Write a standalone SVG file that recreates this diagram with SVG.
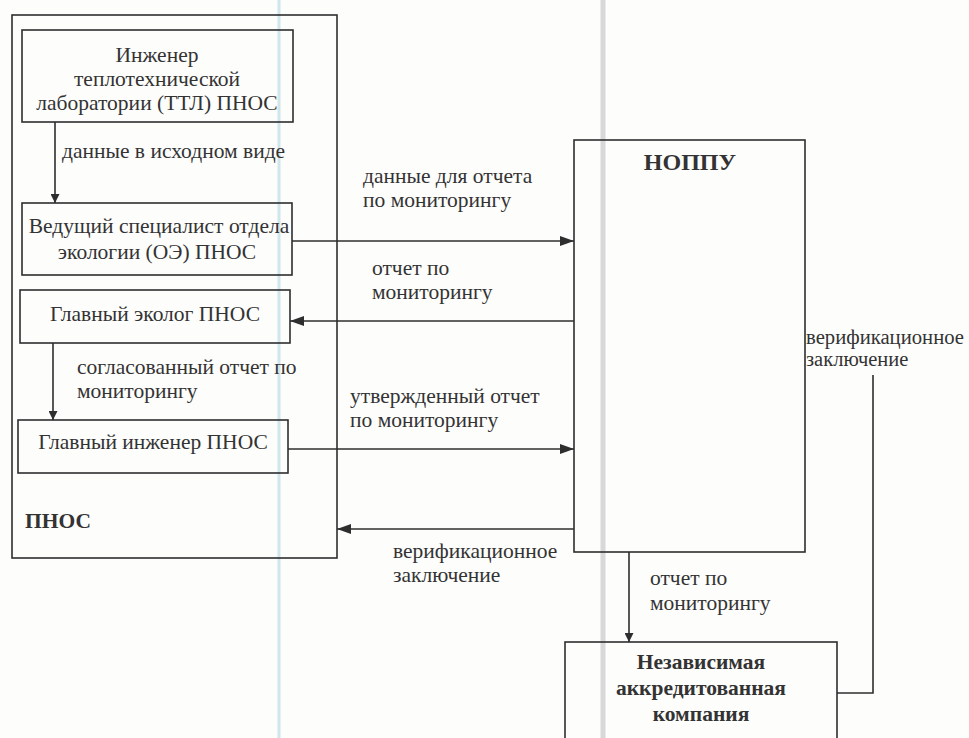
<svg xmlns="http://www.w3.org/2000/svg" width="969" height="738" viewBox="0 0 969 738" font-family="'Liberation Serif','Times New Roman',serif">
<defs>
<style>
.bg{fill:#fdfdfc}
.box{fill:none;stroke:#2e2e2e;stroke-width:1.6}
.ln{fill:none;stroke:#2e2e2e;stroke-width:1.6}
text{font-family:'Liberation Serif','Times New Roman',serif;font-size:21.5px;fill:#333}
.c{text-anchor:middle}
.b{font-weight:bold}
.scan1{stroke:#cfe6ea;stroke-width:3}
.scan2{stroke:#d8d8d8;stroke-width:5}
</style>
<marker id="ah" viewBox="0 0 10 10" refX="10" refY="5" markerWidth="9" markerHeight="9" markerUnits="userSpaceOnUse" orient="auto">
<path d="M0,0 L10,5 L0,10 z" fill="#2e2e2e"/>
</marker>
<marker id="ah2" viewBox="0 0 10 10" refX="10" refY="5" markerWidth="14" markerHeight="14" markerUnits="userSpaceOnUse" orient="auto">
<path d="M0,1.5 L10,5 L0,8.5 z" fill="#2e2e2e"/>
</marker>
</defs>
<rect class="bg" width="969" height="738"/>
<g id="scan">
<line class="scan1" x1="279" y1="0" x2="279" y2="738"/>
<line class="scan2" x1="603" y1="0" x2="603" y2="738"/>
</g>
<g id="pnos">
<rect class="box" x="12" y="15" width="325" height="543"/>
<text class="b" x="25" y="528">ПНОС</text>
</g>
<g id="ttl">
<rect class="box" x="22" y="30" width="271" height="92"/>
<text class="c" x="157" y="62">Инженер</text>
<text class="c" x="157" y="86">теплотехнической</text>
<text class="c" x="157" y="110">лаборатории (ТТЛ) ПНОС</text>
</g>
<g id="oe">
<rect class="box" x="22" y="203" width="270" height="72"/>
<text class="c" x="159" y="233">Ведущий специалист отдела</text>
<text class="c" x="157" y="259">экологии (ОЭ) ПНОС</text>
</g>
<g id="ecolog">
<rect class="box" x="20" y="290" width="270" height="53"/>
<text class="c" x="155" y="321">Главный эколог ПНОС</text>
</g>
<g id="engineer">
<rect class="box" x="18" y="420" width="270" height="53"/>
<text class="c" x="153" y="449">Главный инженер ПНОС</text>
</g>
<g id="noppu">
<rect class="box" x="574" y="140" width="231" height="412"/>
<text class="c b" x="690" y="170" style="font-size:24px">НОППУ</text>
</g>
<g id="company">
<rect class="box" x="565" y="642" width="272" height="110"/>
<text class="c b" x="701" y="669">Независимая</text>
<text class="c b" x="701" y="695">аккредитованная</text>
<text class="c b" x="701" y="721">компания</text>
</g>
<g id="connectors">
<line class="ln" x1="55" y1="122" x2="55" y2="203" marker-end="url(#ah)"/>
<line class="ln" x1="53" y1="343" x2="53" y2="420" marker-end="url(#ah)"/>
<line class="ln" x1="292" y1="241" x2="574" y2="241" marker-end="url(#ah2)"/>
<line class="ln" x1="574" y1="321" x2="290" y2="321" marker-end="url(#ah2)"/>
<line class="ln" x1="288" y1="449" x2="574" y2="449" marker-end="url(#ah2)"/>
<line class="ln" x1="574" y1="529" x2="337" y2="529" marker-end="url(#ah2)"/>
<line class="ln" x1="629" y1="552" x2="629" y2="642" marker-end="url(#ah)"/>
<polyline class="ln" points="837,693 873,693 873,375"/>
</g>
<g id="labels">
<text x="62" y="158">данные в исходном виде</text>
<text x="77" y="374">согласованный отчет по</text>
<text x="77" y="398">мониторингу</text>
<text x="363" y="183">данные для отчета</text>
<text x="363" y="207">по мониторингу</text>
<text x="372" y="275">отчет по</text>
<text x="372" y="299">мониторингу</text>
<text x="350" y="403">утвержденный отчет</text>
<text x="350" y="427">по мониторингу</text>
<text x="393" y="558">верификационное</text>
<text x="393" y="582">заключение</text>
<text x="650" y="585">отчет по</text>
<text x="650" y="610">мониторингу</text>
<text x="806" y="344" style="font-size:20.5px" textLength="158" lengthAdjust="spacingAndGlyphs">верификационное</text>
<text x="806" y="366" style="font-size:20.5px">заключение</text>
</g>
</svg>
